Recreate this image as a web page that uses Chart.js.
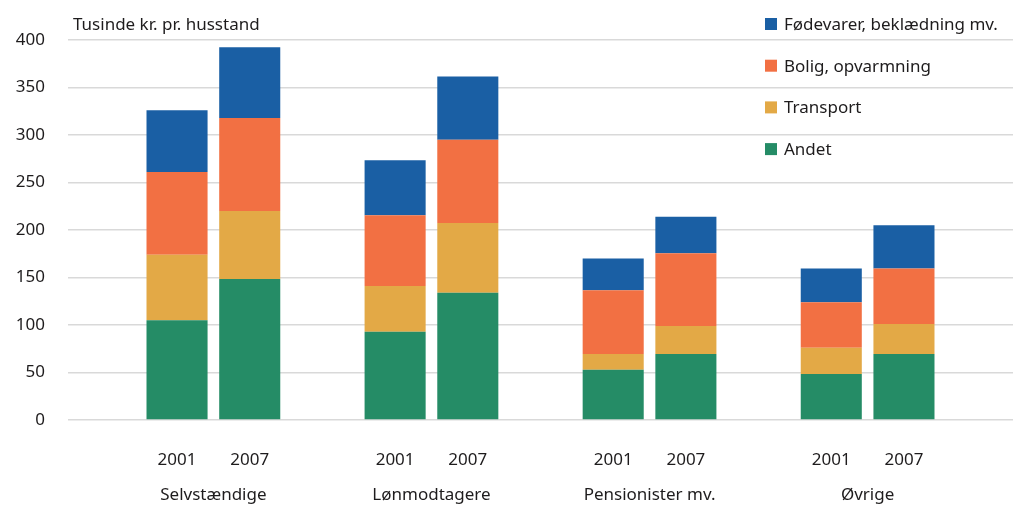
<!DOCTYPE html>
<html>
<head>
<meta charset="utf-8">
<script src="https://cdn.jsdelivr.net/npm/chart.js@4"></script>
<style>
  html, body { margin: 0; padding: 0; background: #fff; }
  #wrap { width: 1029px; height: 525px; }
</style>
</head>
<body>
<div id="wrap"><canvas id="chart"></canvas></div>
<script>
// values, thousand kr. per household; two bars (2001, 2007) per group
const groups = ['Selvstændige', 'Lønmodtagere', 'Pensionister mv.', 'Øvrige'];
const years = ['2001', '2007'];
const andet = [105, 148.5, 93, 134, 53, 69.5, 48.5, 69.5];
const transport = [69, 71.5, 48, 73.5, 16.5, 29.5, 27.5, 31.5];
const bolig = [87, 98, 74.5, 87.5, 67, 76.5, 48, 58.5];
const foedevarer = [65, 74.5, 58, 66.5, 33.5, 38.5, 35.5, 45.5];
const yTicks = [0, 50, 100, 150, 200, 250, 300, 350, 400];

const FONT = "'Noto Sans', sans-serif";
const TEXT = '#1e1c1d';

// labels: blank slot at both ends and between the groups
let labels = [''];
groups.forEach(function (g, i) {
    labels.push(years[0], years[1], '');
});

function spread(vals) {
    let out = [null];
    for (let i = 0; i < groups.length; i++) {
        out.push(vals[i * 2], vals[i * 2 + 1], null);
    }
    return out;
}

const series = [
    { label: 'Andet', data: andet, color: '#258c66' },
    { label: 'Transport', data: transport, color: '#e3a946' },
    { label: 'Bolig, opvarmning', data: bolig, color: '#f27043' },
    { label: 'Fødevarer, beklædning mv.', data: foedevarer, color: '#1a5fa4' }
];

const extraText = {
    id: 'extraText',
    afterDraw(chart) {
        const ctx = chart.ctx;
        const area = chart.chartArea;
        const x = chart.scales.x;
        ctx.save();
        ctx.fillStyle = TEXT;
        ctx.font = '17px ' + FONT;

        // unit title
        ctx.textAlign = 'left';
        ctx.textBaseline = 'alphabetic';
        ctx.fillText('Tusinde kr. pr. husstand', area.left + 5, 30);

        // group names under the years
        ctx.textAlign = 'center';
        groups.forEach(function (g, i) {
            const a = x.getPixelForValue(1 + i * 3);
            const b = x.getPixelForValue(2 + i * 3);
            ctx.fillText(g, (a + b) / 2, 500);
        });

        // legend, top item is the top of the stack
        ctx.textAlign = 'left';
        ctx.textBaseline = 'middle';
        const legX = area.right - 248;
        const rows = series.slice().reverse();
        rows.forEach(function (s, i) {
            const cy = 24 + i * 41.7;
            ctx.fillStyle = s.color;
            ctx.fillRect(legX, cy - 6, 12, 12);
            ctx.fillStyle = TEXT;
            ctx.fillText(s.label, legX + 19, cy + 1);
        });
        ctx.restore();
    }
};

new Chart(document.getElementById('chart'), {
    type: 'bar',
    data: {
        labels: labels,
        datasets: series.map(function (s) {
            return {
                label: s.label,
                data: spread(s.data),
                backgroundColor: s.color,
                borderWidth: 0,
                categoryPercentage: 1,
                barPercentage: 0.84
            };
        })
    },
    options: {
        responsive: true,
        maintainAspectRatio: false,
        animation: false,
        layout: { padding: { top: 40, right: 16, left: 0, bottom: 0 } },
        plugins: {
            legend: { display: false },
            tooltip: { enabled: false }
        },
        scales: {
            x: {
                stacked: true,
                grid: { display: false, drawTicks: false },
                border: { display: false },
                ticks: {
                    color: TEXT,
                    font: { family: FONT, size: 17 },
                    padding: 30,
                    maxRotation: 0,
                    autoSkip: false
                },
                afterFit(scale) { scale.height = 105; }
            },
            y: {
                stacked: true,
                min: 0,
                max: 400,
                afterBuildTicks(scale) {
                    scale.ticks = yTicks.map(function (v) { return { value: v }; });
                },
                grid: { color: '#d9d9d9', lineWidth: 1.6, drawTicks: false },
                border: { display: false },
                ticks: {
                    color: TEXT,
                    font: { family: FONT, size: 17 },
                    padding: 23
                },
                afterFit(scale) { scale.width = 68; }
            }
        }
    },
    plugins: [extraText]
});
</script>
</body>
</html>
